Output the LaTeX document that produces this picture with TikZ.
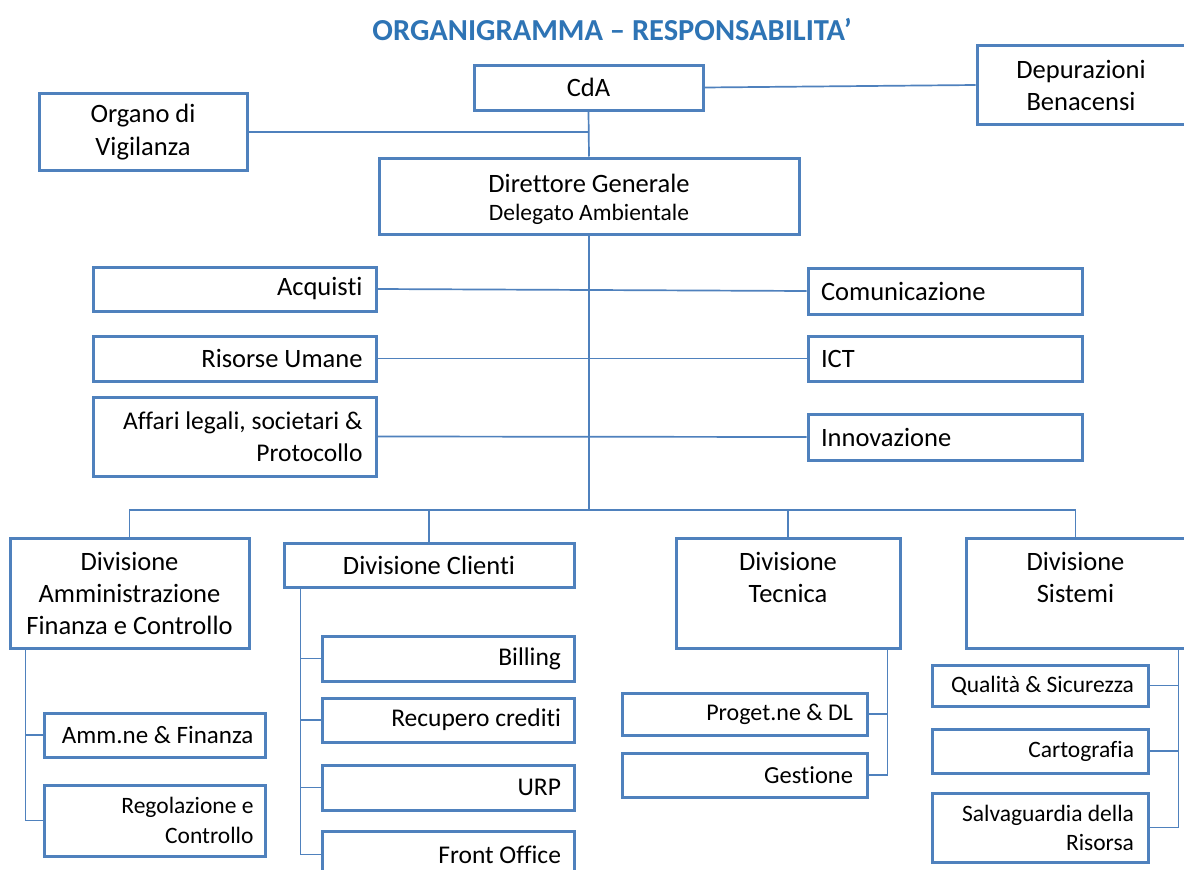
\documentclass[tikz,border=0pt]{standalone}
\usepackage{fontspec}
\setmainfont{Carlito}[Ligatures=NoCommon]
\definecolor{boxblue}{RGB}{79,129,189}
\definecolor{titleblue}{RGB}{46,116,181}
\newcommand{\fs}[2]{\fontsize{#1}{#2}\selectfont}

\begin{document}
\begin{tikzpicture}[x=1pt, y=-1pt,
    box/.style={draw=boxblue, line width=3pt, fill=white, inner sep=0pt, font=\fs{26.5}{32}},
    rbox/.style={box, align=flush right, text width=#1},
    lbox/.style={box, align=flush left, text width=#1},
    link/.style={draw=boxblue, line width=1.7pt}]

        % Page
        \fill[white] (0,0) rectangle (1184,870);
        \clip (0,0) rectangle (1184,870);

        % Title
        \node[font=\fs{30.5}{34}\bfseries, text=titleblue] (title) at (612,30) {ORGANIGRAMMA – RESPONSABILITA’};

        % Top of the chart
        \node[box, minimum width=229, minimum height=45] (cda) at (588.5,87.5) {CdA};
        \node[box, minimum width=208, minimum height=79, align=center] (dep) at (1081,85) {Depurazioni\\Benacensi};
        \node[box, minimum width=208, minimum height=77, align=center, font=\fs{26.5}{33}] (org) at (143,132) {Organo di\\Vigilanza};
        \node[box, minimum width=420, minimum height=76, align=center, font=\fs{26.5}{28}] (dg) at (589,196)
          {\rule{0pt}{26pt}Direttore Generale\\{\fs{23.5}{28}Delegato Ambientale}};

        % Staff offices
        \node[rbox=256, minimum width=283, minimum height=44] (acq) at (234.5,289) {Acquisti};
        \node[rbox=256, minimum width=283, minimum height=45] (ris) at (234.5,358.5) {Risorse Umane};
        \node[rbox=256, minimum width=283, minimum height=79, font=\fs{25.5}{32}] (aff) at (234.5,436.5) {Affari legali, societari \&\\Protocollo};
        \node[lbox=248, minimum width=274, minimum height=46] (com) at (945,291) {Comunicazione};
        \node[lbox=248, minimum width=274, minimum height=45] (ict) at (945,358.5) {ICT};
        \node[lbox=248, minimum width=274, minimum height=46] (inn) at (945,437) {Innovazione};

        % Divisions
        \node[box, minimum width=239, minimum height=110, align=center] (afc) at (129.5,593) {Divisione\\Amministrazione\\Finanza e Controllo};
        \node[box, minimum width=290, minimum height=44] (cli) at (429,565.5) {Divisione Clienti};
        \node[box, minimum width=224, minimum height=110, align=center] (tec) at (788,593) {Divisione\\Tecnica\\~};
        \node[box, minimum width=219, minimum height=110, align=center] (sis) at (1075.5,593) {Divisione\\Sistemi\\~};

        % Units of each division
        \node[rbox=198, minimum width=221, minimum height=44, font=\fs{25}{30}] (amm) at (154.5,735) {Amm.ne \& Finanza};
        \node[rbox=198, minimum width=221, minimum height=71, font=\fs{23.5}{30}] (reg) at (154.5,820.5) {Regolazione e\\Controllo};

        \node[rbox=226, minimum width=252, minimum height=45, font=\fs{25.5}{30}] (bil) at (448,658.5) {Billing};
        \node[rbox=226, minimum width=252, minimum height=44, font=\fs{25.5}{30}] (rec) at (448,720) {Recupero crediti};
        \node[rbox=226, minimum width=252, minimum height=45, font=\fs{25.5}{30}] (urp) at (448,787.5) {URP};
        \node[rbox=226, minimum width=252, minimum height=47, font=\fs{25.5}{30}] (fro) at (448,854.5) {Front Office};

        \node[rbox=217, minimum width=245, minimum height=42, font=\fs{24}{30}] (pro) at (744.5,714) {Proget.ne \& DL};
        \node[rbox=217, minimum width=245, minimum height=44, font=\fs{24.5}{30}] (ges) at (744.5,775) {Gestione};

        \node[rbox=188, minimum width=216, minimum height=41, font=\fs{23.5}{29}] (qua) at (1040,685.5) {Qualità \& Sicurezza};
        \node[rbox=188, minimum width=216, minimum height=44, font=\fs{23.5}{29}] (car) at (1040,751) {Cartografia};
        \node[rbox=188, minimum width=216, minimum height=69, font=\fs{23.5}{29}] (sal) at (1040,827.5) {Salvaguardia della\\Risorsa};

        % Connectors at the top
        \draw[link] (org.east) -- (org.east -| cda.south);
        \draw[link] (cda.east) -- (dep.west);
        \draw[link] (cda.south) -- (dg.north);
        \coordinate (bus) at (589,510);
        \draw[link] (dg.south) -- (bus);

        % Staff lines
        \draw[link] (acq.east) -- (com.west);
        \draw[link] (ris.east) -- (ict.west);
        \draw[link] (aff.east) -- (inn.west);

        % Bus to the divisions
        \draw[link] (afc.north) |- (bus) -| (sis.north);
        \draw[link] (cli.north) -- (cli.north |- bus);
        \draw[link] (tec.north) -- (tec.north |- bus);

        % Division trees
        \draw[link] ([xshift=17pt]afc.south west) |- (amm.west);
        \draw[link] ([xshift=17pt]afc.south west) |- (reg.west);
        \foreach \u in {bil,rec,urp,fro}
          \draw[link] ([xshift=18pt]cli.south west) |- (\u.west);
        \foreach \u in {pro,ges}
          \draw[link] ([xshift=-14pt]tec.south east) |- (\u.east);
        \foreach \u in {qua,car,sal}
          \draw[link] ([xshift=-8pt]sis.south east) |- (\u.east);
\end{tikzpicture}
\end{document}
